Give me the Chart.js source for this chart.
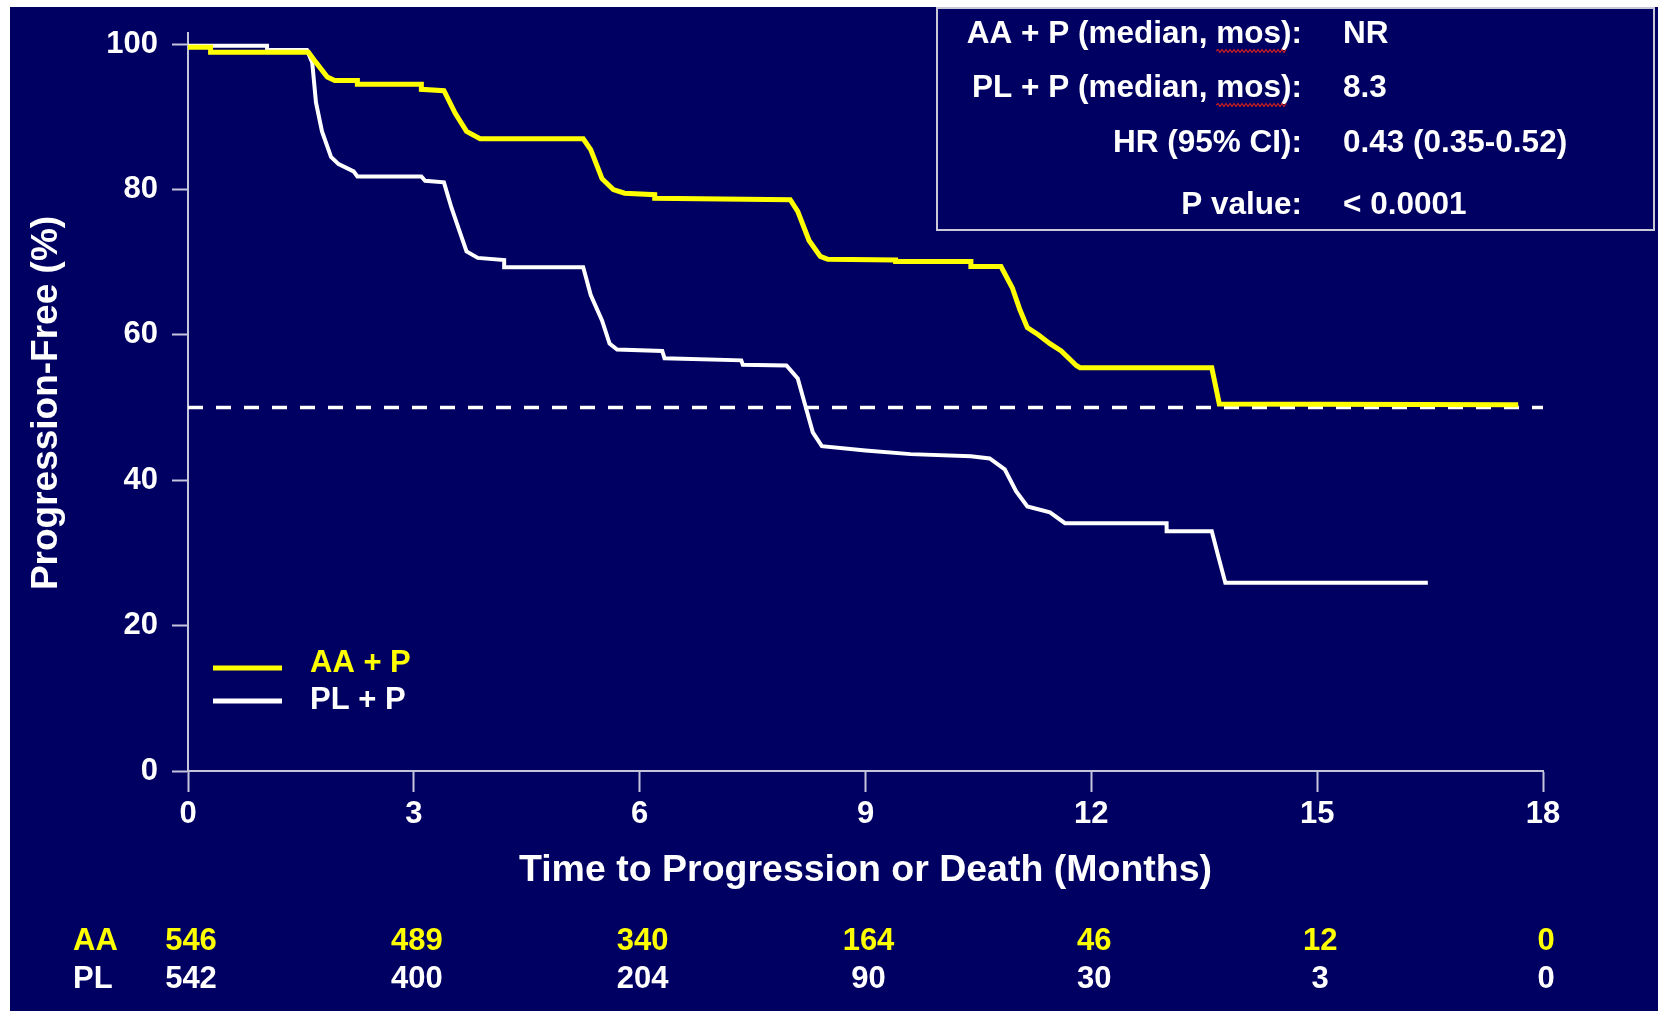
<!DOCTYPE html>
<html>
<head>
<meta charset="utf-8">
<script src="https://cdn.jsdelivr.net/npm/chart.js@4.4.1/dist/chart.umd.min.js"></script>
<style>
  html, body { margin: 0; padding: 0; background: #fff; overflow: hidden; }
  #wrap { position: relative; width: 1658px; height: 1011px; }
</style>
</head>
<body>
<div id="wrap"><canvas id="km"></canvas></div>
<script>
// Kaplan-Meier curves (months, % progression-free)
const aaMonths = [0, 0.3, 0.3, 1.6, 1.7, 1.85, 1.95, 2.25, 2.25, 3.1, 3.1, 3.4, 3.55, 3.7, 3.88, 5.25, 5.35, 5.5, 5.65, 5.8, 6.2, 6.2, 8.0, 8.1, 8.25, 8.4, 8.5, 9.4, 9.4, 10.4, 10.4, 10.8, 10.95, 11.05, 11.15, 11.3, 11.45, 11.6, 11.8, 11.85, 13.6, 13.7, 17.67];
const aaPfs    = [99.6, 99.6, 98.9, 98.9, 97.5, 95.5, 95.0, 95.0, 94.5, 94.5, 93.8, 93.6, 90.5, 88.0, 87.0, 87.0, 85.5, 81.5, 80.0, 79.5, 79.3, 78.8, 78.6, 77.0, 73.0, 70.8, 70.4, 70.3, 70.1, 70.1, 69.4, 69.4, 66.5, 63.5, 61.0, 60.0, 58.8, 57.8, 55.8, 55.5, 55.5, 50.5, 50.4];
const plMonths = [0, 1.05, 1.05, 1.58, 1.65, 1.7, 1.78, 1.9, 2.0, 2.2, 2.25, 3.1, 3.15, 3.4, 3.5, 3.6, 3.7, 3.85, 4.2, 4.2, 5.25, 5.35, 5.5, 5.6, 5.7, 6.3, 6.33, 7.35, 7.37, 7.95, 8.1, 8.2, 8.3, 8.42, 9.0, 9.6, 10.4, 10.65, 10.85, 11.0, 11.15, 11.45, 11.65, 13.0, 13.0, 13.6, 13.68, 13.78, 16.47];
const plPfs    = [99.8, 99.8, 99.2, 99.2, 97.5, 92.0, 88.0, 84.5, 83.5, 82.5, 81.8, 81.8, 81.2, 81.0, 77.5, 74.5, 71.5, 70.6, 70.3, 69.3, 69.3, 65.5, 62.0, 58.8, 58.0, 57.8, 56.8, 56.5, 55.9, 55.8, 54.0, 50.3, 46.6, 44.7, 44.1, 43.6, 43.3, 43.0, 41.5, 38.5, 36.4, 35.6, 34.1, 34.1, 33.0, 33.0, 29.8, 25.9, 25.9];

const seriesNames = ['AA + P', 'PL + P'];
const monthTicks = [0, 3, 6, 9, 12, 15, 18];
const riskLabels = ['AA', 'PL'];
const riskAA = [546, 489, 340, 164, 46, 12, 0];
const riskPL = [542, 400, 204, 90, 30, 3, 0];
const statLabels = ['AA + P (median, mos):', 'PL + P (median, mos):', 'HR (95% CI):', 'P value:'];
const statValues = ['NR', '8.3', '0.43 (0.35-0.52)', '< 0.0001'];
const medianLine = 50;

const NAVY = '#000062';
const YELLOW = '#ffff00';
const WHITE = '#ffffff';
const AXIS = '#c4c4dc';
const FONT = '"Liberation Sans", Arial, sans-serif';

const toPoints = (xs, ys) => xs.map((x, i) => ({ x: x, y: ys[i] }));

function wavy(ctx, x1, x2, y) {
  ctx.save();
  ctx.strokeStyle = '#d02020';
  ctx.lineWidth = 1.2;
  ctx.beginPath();
  let up = true;
  ctx.moveTo(x1, y);
  for (let x = x1 + 2; x <= x2; x += 2) {
    ctx.lineTo(x, up ? y - 1.5 : y + 1.5);
    up = !up;
  }
  ctx.stroke();
  ctx.restore();
}

const slideDecor = {
  id: 'slideDecor',
  beforeDraw(chart) {
    const ctx = chart.ctx;
    ctx.save();
    ctx.fillStyle = NAVY;
    ctx.fillRect(10, 7, chart.width - 10, chart.height - 7);
    ctx.restore();
  },
  afterDraw(chart) {
    const ctx = chart.ctx;
    const xs = chart.scales.x;
    const area = chart.chartArea;
    ctx.save();

    // axis titles
    ctx.fillStyle = WHITE;
    ctx.textAlign = 'center';
    ctx.textBaseline = 'middle';
    ctx.font = 'bold 37.5px ' + FONT;
    ctx.fillText('Time to Progression or Death (Months)', (area.left + area.right) / 2, 871);
    ctx.save();
    ctx.translate(47, 403);
    ctx.rotate(-Math.PI / 2);
    ctx.font = 'bold 37px ' + FONT;
    ctx.fillText('Progression-Free (%)', 0, 0);
    ctx.restore();

    // legend
    const legendColors = [YELLOW, WHITE];
    const legendLineY = [668, 701];
    const legendTextY = [663, 700];
    ctx.font = 'bold 31px ' + FONT;
    ctx.textAlign = 'left';
    seriesNames.forEach((name, i) => {
      ctx.strokeStyle = legendColors[i];
      ctx.lineWidth = 5;
      ctx.beginPath();
      ctx.moveTo(213, legendLineY[i]);
      ctx.lineTo(282, legendLineY[i]);
      ctx.stroke();
      ctx.fillStyle = legendColors[i];
      ctx.fillText(name, 310, legendTextY[i]);
    });

    // numbers at risk
    ctx.font = 'bold 31px ' + FONT;
    const rows = [riskAA, riskPL];
    const rowY = [941, 979];
    rows.forEach((row, r) => {
      ctx.fillStyle = legendColors[r];
      ctx.textAlign = 'left';
      ctx.fillText(riskLabels[r], 73, rowY[r]);
      ctx.textAlign = 'center';
      row.forEach((n, i) => {
        ctx.fillText(String(n), xs.getPixelForValue(monthTicks[i]) + 3, rowY[r]);
      });
    });

    // stats box
    ctx.strokeStyle = '#c8c8d8';
    ctx.lineWidth = 2;
    ctx.strokeRect(937, 8, 717, 222);
    ctx.fillStyle = WHITE;
    ctx.font = 'bold 31.5px ' + FONT;
    const statY = [34, 88, 143, 205];
    statLabels.forEach((lab, i) => {
      ctx.textAlign = 'right';
      ctx.fillText(lab, 1302, statY[i]);
      ctx.textAlign = 'left';
      ctx.fillText(statValues[i], 1343, statY[i]);
    });
    wavy(ctx, 1216, 1286, 51);
    wavy(ctx, 1216, 1286, 105);

    ctx.restore();
  }
};

new Chart(document.getElementById('km'), {
  type: 'line',
  data: {
    datasets: [
      {
        label: seriesNames[0],
        data: toPoints(aaMonths, aaPfs),
        borderColor: YELLOW,
        borderWidth: 5,
        pointRadius: 0,
        tension: 0
      },
      {
        label: seriesNames[1],
        data: toPoints(plMonths, plPfs),
        borderColor: WHITE,
        borderWidth: 4,
        pointRadius: 0,
        tension: 0
      },
      {
        label: 'median',
        data: [{ x: 0, y: medianLine }, { x: 18, y: medianLine }],
        borderColor: WHITE,
        borderWidth: 3.5,
        borderDash: [15, 13],
        pointRadius: 0,
        clip: false
      }
    ]
  },
  options: {
    responsive: true,
    maintainAspectRatio: false,
    animation: false,
    layout: { padding: { top: 28, right: 115, left: 0, bottom: 0 } },
    plugins: { legend: { display: false }, tooltip: { enabled: false } },
    scales: {
      x: {
        type: 'linear',
        min: 0,
        max: 18,
        afterFit: s => { s.height = 240; },
        afterBuildTicks: s => { s.ticks = monthTicks.map(v => ({ value: v })); },
        ticks: { color: WHITE, font: { family: FONT, size: 31, weight: 'bold' }, padding: 4, maxRotation: 0 },
        grid: { display: true, drawOnChartArea: false, tickLength: 21, tickWidth: 2, color: AXIS, tickColor: AXIS },
        border: { display: true, color: AXIS, width: 2 }
      },
      y: {
        type: 'linear',
        min: 0,
        max: 101.6,
        afterFit: s => { s.width = 188; },
        ticks: { stepSize: 20, includeBounds: false, color: WHITE, font: { family: FONT, size: 31, weight: 'bold' }, padding: 14 },
        grid: { display: true, drawOnChartArea: false, tickLength: 16, tickWidth: 2, color: AXIS, tickColor: AXIS },
        border: { display: true, color: AXIS, width: 2 }
      }
    }
  },
  plugins: [slideDecor]
});
</script>
</body>
</html>
